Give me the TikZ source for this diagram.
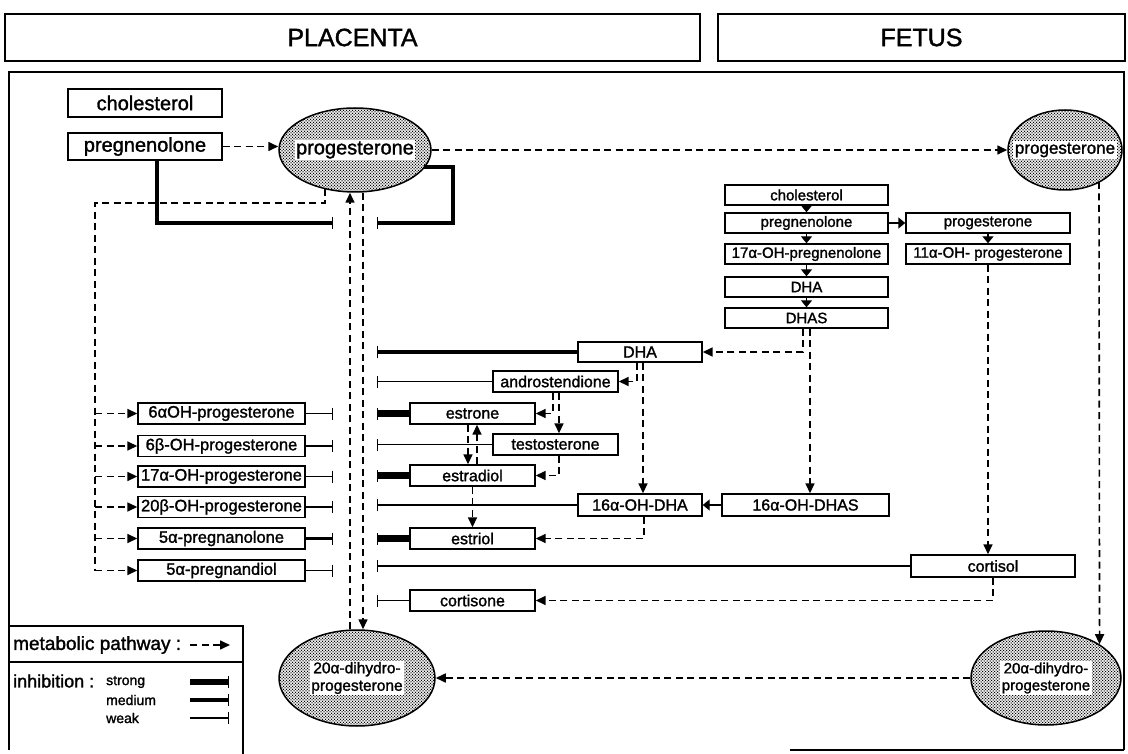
\documentclass[tikz,border=0pt]{standalone}
\usepackage{fontspec}
\setmainfont{Liberation Sans}[FakeBold=1.5]
\usetikzlibrary{arrows.meta,shapes.geometric,patterns,calc}
\newcommand\fsz[1]{\fontsize{#1}{#1}\selectfont}
\pgfdeclarepatternformonly{stipple}{\pgfpoint{-1pt}{-1pt}}{\pgfpoint{4pt}{4pt}}{\pgfpoint{3pt}{3pt}}{%
  \pgfpathcircle{\pgfpoint{0pt}{0pt}}{0.75pt}%
  \pgfpathcircle{\pgfpoint{1.5pt}{1.5pt}}{0.75pt}%
  \pgfusepath{fill}}
\begin{document}
\begin{tikzpicture}[x=1pt,y=-1pt,
 box/.style={draw, line width=1.4pt, inner sep=0pt, font=\fsz{16}},
 bigbox/.style={box, font=\fsz{20}},
 hdr/.style={draw, line width=1.5pt, inner sep=0pt, font=\fsz{25}},
 oval/.style={draw, ellipse, line width=1.5pt, inner sep=0pt, pattern=stipple, pattern color=black},
 lbl/.style={fill=white, inner sep=1.5pt},
 pathway/.style={line width=1.6pt, dash pattern=on 7pt off 4.5pt, -{Triangle[length=10pt,width=9pt]}},
 dashline/.style={line width=1.6pt, dash pattern=on 7pt off 4.5pt},
 reaction/.style={line width=1.4pt, -{Triangle[length=7pt,width=11pt]}},
 weakinh/.style={line width=1.3pt, -{Bar[width=12pt,line width=1.3pt]}},
 medinh/.style={line width=3.5pt, -{Bar[width=12pt,line width=1.3pt]}},
 stronginh/.style={line width=6.5pt, -{Bar[width=12pt,line width=1.3pt]}},
 frame/.style={line width=1.5pt}
]
\useasboundingbox (0,0) rectangle (1128,754);

% headers and frame
\node[hdr, minimum width=695pt, minimum height=47pt] (hp) at (352.5,37.5) {PLACENTA};
\node[hdr, minimum width=407pt, minimum height=47pt] (hf) at (921.5,37.5) {FETUS};
\draw[frame] (9,750) -- (9,72) -- (1124,72) -- (1124,750);
\draw[frame] (790,750) -- (1124,750);

% placenta top
\node[bigbox, minimum width=154pt, minimum height=28pt] (pchol) at (145,103) {cholesterol};
\node[bigbox, minimum width=154pt, minimum height=27pt] (ppreg) at (145,146.5) {pregnenolone};
\node[oval, minimum width=152pt, minimum height=84pt] (pprog) at (355,150) {};
\node[lbl, font=\fsz{20}] (pprogt) at (pprog) {progesterone};
\node[oval, minimum width=114pt, minimum height=80pt] (fprog) at (1065,150) {};
\node[lbl, font=\fsz{17}] (fprogt) at (fprog) {progesterone};
\draw[pathway] (ppreg.east) -- (ppreg.east -| pprog.west);
\draw[pathway] (pprog.east) -- (fprog.west);

% 20alpha-dihydroprogesterone
\node[oval, minimum width=156pt, minimum height=96pt] (p20) at (357,678) {};
\node[lbl, font=\fsz{15.5}, align=center] (p20t) at (p20) {20α-dihydro-\\[2pt]progesterone};
\node[oval, minimum width=150pt, minimum height=94pt] (f20) at (1046,678) {};
\node[lbl, font=\fsz{15}, align=center] (f20t) at (f20) {20α-dihydro-\\[2pt]progesterone};
\draw[pathway] (f20.west) -- (p20.east);

% helper columns
\coordinate (vL) at (350,0);
\coordinate (vR) at (363,0);
\coordinate (vl) at (95,0);
\coordinate (bL) at (333,0);
\coordinate (bR) at (377,0);
\coordinate (b1) at (333,223);
\coordinate (b2) at (377,223);
\coordinate (ps) at (424,167);
\coordinate (pc) at (453,223);
\coordinate (pq) at (325,189);
\coordinate (fv) at (1099,182);

\draw[pathway] (p20.north -| vL) -- (pprog.south -| vL);
\draw[pathway] (pprog.south -| vR) -- (p20.north -| vR);

% inhibition of progesterone synthesis
\draw[medinh] ($(ppreg.south)+(12,0)$) |- (b1);
\draw[medinh] (ps) -| (pc) -- (b2);

% left list
\foreach \n/\y/\t in {l1/413.5/6αOH-progesterone, l2/446/6β-OH-progesterone, l3/476.5/17α-OH-progesterone, l4/507/20β-OH-progesterone, l5/538.5/5α-pregnanolone, l6/570.5/5α-pregnandiol}{
  \node[box, minimum width=167pt, minimum height=21pt, font=\fsz{16.5}] (\n) at (221.5,\y) {\t};
  \draw[pathway] (\n.west -| vl) -- (\n.west);
}
\draw[dashline] (pq) -- (pq |- 0,203) -- (vl |- 0,203) -- (l6.west -| vl);
\foreach \n in {l1,l2,l3,l4,l6}{\draw[weakinh] (\n.east) -- (\n.east -| bL);}
\draw[medinh] (l5.east) -- (l5.east -| bL);

% placenta steroids
\node[box, minimum width=124pt, minimum height=20pt] (pdha) at (640,352) {DHA};
\node[box, minimum width=125pt, minimum height=21pt] (andro) at (555.5,381.5) {androstendione};
\node[box, minimum width=125pt, minimum height=21pt] (estrone) at (472.5,413.5) {estrone};
\node[box, minimum width=125pt, minimum height=21pt] (testo) at (555.5,444.5) {testosterone};
\node[box, minimum width=125pt, minimum height=21pt] (estradiol) at (472.5,475.5) {estradiol};
\node[box, minimum width=124pt, minimum height=22pt] (p16) at (640,505) {16α-OH-DHA};
\node[box, minimum width=125pt, minimum height=21pt] (estriol) at (472.5,538.5) {estriol};
\node[box, minimum width=164pt, minimum height=22pt] (cortisol) at (993,566) {cortisol};
\node[box, minimum width=125pt, minimum height=21pt] (cortisone) at (472.5,600.5) {cortisone};
\node[box, minimum width=167pt, minimum height=22pt] (f16) at (805.5,505) {16α-OH-DHAS};

\draw[medinh] (pdha.west) -- (pdha.west -| bR);
\foreach \n in {andro,testo,p16,cortisol,cortisone}{\draw[weakinh] (\n.west) -- (\n.west -| bR);}
\foreach \n in {estrone,estradiol,estriol}{\draw[stronginh] (\n.west) -- (\n.west -| bR);}

% fetal column
\node[box, minimum width=163pt, minimum height=20pt, font=\fsz{15}] (fchol) at (806.5,195) {cholesterol};
\node[box, minimum width=163pt, minimum height=20pt, font=\fsz{15}] (fpreg) at (806.5,223) {pregnenolone};
\node[box, minimum width=163pt, minimum height=20pt, font=\fsz{15}] (f17) at (806.5,254) {17α-OH-pregnenolone};
\node[box, minimum width=163pt, minimum height=20pt, font=\fsz{15}] (fdha) at (806.5,287) {DHA};
\node[box, minimum width=163pt, minimum height=20pt, font=\fsz{15}] (fdhas) at (806.5,318) {DHAS};
\node[box, minimum width=164pt, minimum height=20pt, font=\fsz{15}] (fprogb) at (988,223) {progesterone};
\node[box, minimum width=164pt, minimum height=20pt, font=\fsz{15}] (f11) at (988,254) {11α-OH- progesterone};

\draw[reaction] (fchol.south) -- (fpreg.north);
\draw[reaction] (fpreg.south) -- (f17.north);
\draw[reaction] (f17.south) -- (fdha.north);
\draw[reaction] (fdha.south) -- (fdhas.north);
\draw[reaction] (fpreg.east) -- (fprogb.west);
\draw[reaction] (fprogb.south) -- (f11.north);
\draw[reaction] (f16.west) -- (p16.east);

% metabolic pathways
\draw[pathway] ([xshift=-3.5pt]fdhas.south) |- (pdha.east);
\draw[pathway] ([xshift=3.5pt]fdhas.south) -- ([xshift=3.5pt]fdhas.south |- f16.north);
\draw[pathway] ([xshift=-3pt]pdha.south) |- (andro.east);
\draw[pathway] ([xshift=3pt]pdha.south) -- ([xshift=3pt]p16.north);
\draw[pathway] ([xshift=-2.5pt]andro.south) |- (estrone.east);
\draw[pathway] ([xshift=3.5pt]andro.south) -- ([xshift=3.5pt]testo.north);
\draw[pathway] ([xshift=3.5pt]testo.south) |- (estradiol.east);
\draw[pathway] ([xshift=-4.5pt]estrone.south) -- ([xshift=-4.5pt]estradiol.north);
\draw[pathway] ([xshift=4.5pt]estradiol.north) -- ([xshift=4.5pt]estrone.south);
\draw[pathway] (estradiol.south) -- (estriol.north);
\draw[pathway] ([xshift=4pt]p16.south) |- (estriol.east);
\draw[pathway] (f11.south) -- (f11.south |- cortisol.north);
\draw[pathway] (cortisol.south) |- (cortisone.east);
\draw[pathway] (fv) -- (f20.north east);

% legend
\draw[frame] (9,626) -- (243,626) -- (243,754);
\draw[frame] (9,662) -- (243,662);
\node[anchor=west, inner sep=0pt, font=\fsz{19}] (lgm) at (13,645) {metabolic pathway :};
\coordinate (lgs) at (190,645);
\coordinate (lge) at (230,645);
\draw[pathway] (lgs) -- (lge);
\node[anchor=west, inner sep=0pt, font=\fsz{18}] (lgi) at (13,681) {inhibition :};
\node[anchor=west, inner sep=0pt, font=\fsz{14}] (lgst) at (106,682) {strong};
\node[anchor=west, inner sep=0pt, font=\fsz{14}] (lgme) at (106,700) {medium};
\node[anchor=west, inner sep=0pt, font=\fsz{14}] (lgwe) at (106,718) {weak};
\coordinate (s1) at (190,682); \coordinate (s2) at (229,682);
\coordinate (m1) at (190,700); \coordinate (m2) at (229,700);
\coordinate (w1) at (190,718); \coordinate (w2) at (229,718);
\draw[stronginh] (s1) -- (s2);
\draw[line width=4.5pt, -{Bar[width=12pt,line width=1.3pt]}] (m1) -- (m2);
\draw[weakinh] (w1) -- (w2);
\end{tikzpicture}
\end{document}
